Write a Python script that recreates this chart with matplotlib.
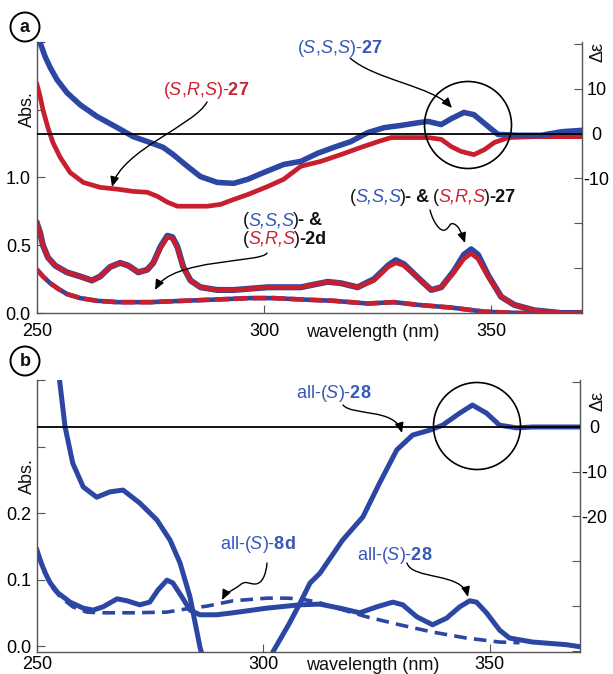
import numpy as np
import matplotlib
matplotlib.use('Agg')
import matplotlib.pyplot as plt
import matplotlib.transforms as mtransforms
from matplotlib.patches import FancyArrowPatch, Circle
from matplotlib.path import Path

plt.rcParams['font.family'] = ['Liberation Sans', 'DejaVu Sans']
plt.rcParams['font.size'] = 13
plt.rcParams['mathtext.fontset'] = 'custom'
plt.rcParams['mathtext.rm'] = 'Liberation Sans'
plt.rcParams['mathtext.it'] = 'Liberation Sans:italic'
plt.rcParams['mathtext.bf'] = 'Liberation Sans:bold'

BLUE = '#2b47a3'
RED = '#c81f2f'
BLUE_TXT = '#3657bb'
RED_TXT = '#cc2331'
INK = '#111111'
GREY = '#555555'
nan = np.nan

# ---------------- panel a : (S,S,S)-27 / (S,R,S)-27 ----------------
# CD (right axis, delta epsilon)
wl_a_cd_sss = [250.7, 251.8, 252.9, 254.4, 256.6, 259.5, 263.2, 267.7, 271.2, 274.9,
               277.8, 280.0, 283.1, 286.0, 289.7, 293.3, 296.4, 299.9, 304.3, 308.1,
               311.8, 315.3, 319.1, 322.8, 326.4, 330.1, 333.9, 336.1, 339.0, 341.2,
               344.0, 346.2, 349.3, 351.5, 355.9, 361.0, 365.5, 369.9]
cd_a_sss = [20.2, 17.1, 14.7, 12.0, 9.1, 6.4, 3.8, 1.3, -0.7, -2.0,
            -3.1, -4.7, -7.3, -9.6, -10.9, -11.1, -10.2, -8.7, -6.9, -6.2,
            -4.4, -3.1, -1.8, 0.2, 1.3, 1.8, 2.4, 2.7, 2.0, 3.3,
            4.7, 4.2, 1.6, -0.2, -0.4, -0.4, 0.4, 0.7]

wl_a_cd_srs = [250.0, 250.7, 251.3, 252.4, 253.5, 255.1, 257.3, 260.2, 263.9, 267.7,
               271.2, 274.3, 276.5, 278.7, 280.9, 283.8, 287.5, 290.4, 293.3, 296.4,
               300.8, 304.3, 308.1, 312.5, 316.9, 321.3, 325.1, 328.0, 331.7, 336.1,
               339.0, 341.2, 343.4, 346.2, 348.5, 350.7, 353.8, 359.5, 369.9]
cd_a_srs = [10.9, 8.2, 5.3, 1.3, -2.0, -5.3, -8.7, -10.9, -12.0, -12.4,
            -12.9, -13.1, -14.0, -15.3, -16.2, -16.2, -16.2, -15.8, -14.7, -13.6,
            -11.8, -10.2, -7.3, -6.2, -4.7, -3.1, -1.8, -0.9, -0.9, -0.9,
            -1.3, -2.9, -4.0, -4.7, -3.6, -2.0, -0.9, -0.7, -0.7]

# UV (left axis, absorbance) of 27
wl_a_uv = [250.0, 250.7, 251.3, 252.4, 254.0, 256.6, 259.5, 262.1, 263.9, 266.1,
           268.3, 270.1, 272.3, 274.3, 275.6, 277.2, 278.7, 279.8, 280.9, 282.2,
           283.8, 286.0, 289.7, 293.3, 300.8, 308.1, 311.0, 314.0, 316.9, 320.6,
           324.2, 327.3, 329.0, 330.8, 333.9, 336.8, 339.0, 341.8, 344.0, 345.6,
           347.1, 349.3, 352.2, 355.1, 359.5, 365.5, 369.9]
abs_a_srs = [0.66, 0.59, 0.50, 0.41, 0.35, 0.30, 0.27, 0.24, 0.27, 0.34,
             0.37, 0.35, 0.30, 0.32, 0.37, 0.48, 0.56, 0.55, 0.48, 0.34,
             0.24, 0.19, 0.17, 0.17, 0.19, 0.19, 0.21, 0.23, 0.22, 0.19,
             0.24, 0.34, 0.37, 0.35, 0.26, 0.17, 0.19, 0.30, 0.40, 0.44,
             0.40, 0.27, 0.12, 0.06, 0.02, 0.0, 0.0]
abs_a_sss = [0.66, 0.59, 0.50, 0.41, 0.35, 0.30, 0.27, 0.24, 0.27, 0.34,
             0.37, 0.35, 0.30, 0.32, 0.37, 0.49, 0.57, 0.56, 0.49, 0.34,
             0.24, 0.19, 0.17, 0.17, 0.19, 0.19, 0.21, 0.23, 0.22, 0.19,
             0.25, 0.35, 0.39, 0.36, 0.26, 0.17, 0.19, 0.31, 0.43, 0.47,
             0.43, 0.28, 0.12, 0.06, 0.02, 0.0, 0.0]

# UV of 2d (identical for both isomers)
wl_a_2d = [250.0, 251.3, 252.9, 254.6, 256.6, 259.5, 263.2, 267.7, 274.9, 282.2,
           289.7, 297.0, 302.1, 308.1, 315.3, 322.8, 328.6, 333.9, 341.2, 348.5,
           356.0, 369.9]
abs_a_2d = [0.32, 0.27, 0.22, 0.18, 0.14, 0.11, 0.09, 0.08, 0.08, 0.09,
            0.10, 0.11, 0.11, 0.10, 0.09, 0.07, 0.08, 0.06, 0.04, 0.01,
            0.0, 0.0]

# ---------------- panel b : all-(S)-28 / all-(S)-8d ----------------
wl_b_cd = [254.8, 256.2, 257.9, 260.2, 263.2, 266.1, 269.0, 272.7, 276.5, 279.4,
           281.6, 283.8, 286.0, 287.3, nan, 301.3, 302.1, 305.8, 308.1, 310.3,
           312.5, 317.5, 322.0, 325.7, 329.5, 333.0, 336.8, 339.6, 343.4, 346.2,
           349.3, 352.2, 356.0, 359.5, 370.0]
cd_b_28 = [12.0, 0.0, -8.1, -13.4, -15.7, -14.5, -14.1, -17.0, -20.8, -25.3,
           -30.4, -38.0, -49.2, -54.0, nan, -54.0, -50.3, -43.8, -39.4, -34.9,
           -32.7, -25.3, -20.1, -12.5, -5.1, -1.8, -0.7, 0.4, 3.1, 4.9,
           3.1, 0.4, -0.2, 0.0, 0.0]

wl_b_uv = [250.0, 250.7, 251.8, 252.9, 254.6, 257.3, 260.2, 262.4, 264.6, 267.7,
           269.9, 272.7, 274.9, 276.7, 278.7, 280.0, 282.0, 283.8, 286.0, 289.7,
           293.3, 300.8, 308.1, 312.5, 316.9, 321.3, 325.1, 328.6, 330.8, 333.9,
           337.4, 340.5, 343.4, 345.6, 347.1, 349.3, 352.2, 354.4, 359.5, 367.0,
           369.9]
abs_b_28 = [0.144, 0.129, 0.110, 0.095, 0.080, 0.066, 0.057, 0.054, 0.059, 0.071,
            0.068, 0.062, 0.066, 0.084, 0.099, 0.095, 0.074, 0.054, 0.047, 0.047,
            0.050, 0.057, 0.062, 0.063, 0.057, 0.050, 0.059, 0.066, 0.062, 0.044,
            0.032, 0.042, 0.059, 0.068, 0.066, 0.050, 0.024, 0.012, 0.006, 0.002,
            -0.001]

wl_b_8d = [250.0, 252.9, 255.1, 257.9, 261.0, 263.9, 271.2, 278.7, 283.1, 287.5,
           293.3, 300.8, 305.0, 308.1, 312.0, 315.3, 322.8, 330.1, 337.4, 344.9,
           352.2, 356.6]
abs_b_8d = [0.144, 0.092, 0.074, 0.059, 0.051, 0.050, 0.050, 0.051, 0.056, 0.060,
            0.068, 0.072, 0.072, 0.071, 0.066, 0.059, 0.044, 0.032, 0.021, 0.012,
            0.006, 0.005]

x_ticks = [250, 300, 350]

fig = plt.figure(figsize=(6.13, 6.74), dpi=100)
# image-pixel coordinates (origin top-left) for the annotations
img = mtransforms.Affine2D().scale(1, -1).translate(0, fig.bbox.height)
renderer = fig.canvas.get_renderer()


def make_panel(rect, abs_lim, abs_ticks, abs_labels, cd_lim, cd_ticks, cd_labels, xpad, ypad):
    ax = fig.add_axes(rect)
    ax2 = ax.twinx()
    ax.set_xlim(250, 370)
    ax.set_ylim(*abs_lim)
    ax2.set_ylim(*cd_lim)
    ax.set_xticks(x_ticks, [str(t) for t in x_ticks])
    ax.set_yticks(abs_ticks, abs_labels)
    ax2.set_yticks(cd_ticks, cd_labels)
    for a in (ax, ax2):
        a.spines['top'].set_visible(False)
        for s in a.spines.values():
            s.set_color(GREY)
            s.set_linewidth(1.0)
    ax.spines['right'].set_visible(False)
    ax2.spines['left'].set_visible(False)
    ax2.spines['bottom'].set_visible(False)
    ax.tick_params(axis='x', direction='in', length=6, width=0.8, color=GREY, pad=xpad, labelsize=13)
    ax.tick_params(axis='y', direction='in', length=6, width=0.8, color=GREY, pad=ypad, labelsize=13)
    ax2.tick_params(axis='y', direction='in', length=6, width=0.8, color=GREY, pad=10.5, labelsize=13)
    for lbl in ax2.get_yticklabels():
        lbl.set_ha('center')
    ax2.axhline(0, color='black', lw=1.3, zorder=6)
    return ax, ax2


def label(x, y, s, color):
    fig.text(x, y, s, transform=img, color=color, va='baseline', ha='left', fontsize=13)


def rich(x, y, pieces):
    # several colours on one line: pieces laid side by side
    for s, color, style, weight, gap in pieces:
        x += gap
        t = fig.text(x, y, s, transform=img, color=color, fontstyle=style,
                     fontweight=weight, va='baseline', ha='left', fontsize=13)
        x += t.get_window_extent(renderer).width


def P(s, color, it=False, bold=False, gap=-1.0):
    return (s, color, 'italic' if it else 'normal', 'bold' if bold else 'normal', gap)


def arrow(points):
    codes = [Path.MOVETO] + [Path.CURVE4] * (len(points) - 1)
    fig.add_artist(FancyArrowPatch(path=Path(points, codes), transform=img,
                                   arrowstyle='-|>,head_length=6,head_width=2.6',
                                   mutation_scale=1, lw=1.0, color='black',
                                   shrinkA=0, shrinkB=0))


# ---------------- panel a ----------------
ax_a, ax_a2 = make_panel([0.0604, 0.5356, 0.889, 0.4021], (0, 2.0),
                         [0, 0.5, 1.0, 1.5, 2.0], ['0.0', '0.5', '1.0', '', ''],
                         (-39.8, 20.4), [-40, -30, -20, -10, 0, 10, 20],
                         ['', '', '', '-10', '0', '10', ''], 7.5, 4.5)

ax_a.plot(wl_a_2d, abs_a_2d, color=BLUE, lw=3.3)
ax_a.plot(wl_a_2d, abs_a_2d, color=RED, lw=3.3, dashes=(3, 1.1))
ax_a.plot(wl_a_uv, abs_a_sss, color=BLUE, lw=4.4, solid_joinstyle='round')
ax_a.plot(wl_a_uv, abs_a_srs, color=RED, lw=3.3, solid_joinstyle='round')
ax_a2.plot(wl_a_cd_srs, cd_a_srs, color=RED, lw=3.4, solid_joinstyle='round')
ax_a2.plot(wl_a_cd_sss, cd_a_sss, color=BLUE, lw=4.0, solid_joinstyle='round')

# ---------------- panel b ----------------
ax_b, ax_b2 = make_panel([0.0604, 0.0326, 0.886, 0.4036], (-0.009, 0.4),
                         [0, 0.1, 0.2, 0.3, 0.4], ['0.0', '0.1', '0.2', '', ''],
                         (-50.3, 10.5), [-50, -40, -30, -20, -10, 0, 10],
                         ['', '', '', '-20', '-10', '0', ''], 2.8, 4.0)

ax_b.plot(wl_b_8d, abs_b_8d, color=BLUE, lw=2.6, dashes=(3.5, 2))
ax_b.plot(wl_b_uv, abs_b_28, color=BLUE, lw=3.6, solid_joinstyle='round')
ax_b2.plot(wl_b_cd, cd_b_28, color=BLUE, lw=3.6, solid_joinstyle='round')

# ---------------- axis captions ----------------
for yc in (109, 476):
    fig.text(27, yc, 'Abs.', transform=img, rotation=90, ha='center', va='center', color=INK)
for yc in (52, 401):
    fig.text(598, yc, 'Δε', transform=img, rotation=90, ha='center', va='center', color=INK)
for yb in (337, 670):
    fig.text(306, yb, 'wavelength (nm)', transform=img, ha='left', va='baseline', color=INK)
for lab, yc in (('a', 27), ('b', 361)):
    fig.add_artist(Circle((25, yc), 14.5, transform=img, fill=False, lw=1.4, color='black'))
    fig.text(25, yc + 1, lab, transform=img, ha='center', va='center',
             fontweight='bold', color=INK)

# circles around the CD couplets
fig.add_artist(Circle((468, 125), 43.5, transform=img, fill=False, lw=1.2, color='black'))
fig.add_artist(Circle((477, 426), 43.5, transform=img, fill=False, lw=1.2, color='black'))

# ---------------- labels + arrows, panel a ----------------
label(297, 53, r'($\mathit{S}$,$\mathit{S}$,$\mathit{S}$)-$\mathbf{27}$', BLUE_TXT)
arrow([(350, 58), (375, 80), (432, 86), (452, 108)])

label(163, 95, r'($\mathit{S}$,$\mathit{R}$,$\mathit{S}$)-$\mathbf{27}$', RED_TXT)
arrow([(207, 102), (195, 125), (122, 150), (112, 187)])

rich(243, 225, [P('(', INK, gap=0), P('S,S,S', BLUE_TXT, it=True), P(')', INK),
                P('- &', INK, bold=True)])
rich(243, 244, [P('(', INK, gap=0), P('S,R,S', RED_TXT, it=True), P(')', INK),
                P('-2d', INK, bold=True)])
arrow([(267, 253), (262, 263), (172, 258), (155, 290)])

rich(350, 202, [P('(', INK, gap=0), P('S,S,S', BLUE_TXT, it=True), P(')', INK),
                P('- &', INK, bold=True), P('(', INK, gap=4.0), P('S,R,S', RED_TXT, it=True),
                P(')', INK), P('-27', INK, bold=True)])
arrow([(430, 210), (433, 222), (440, 232), (445, 230),
       (450, 228), (449, 222), (454, 224),
       (459, 226), (462, 234), (465, 243)])

# ---------------- labels + arrows, panel b ----------------
label(296, 398, r'all-($\mathit{S}$)-$\mathbf{28}$', BLUE_TXT)
arrow([(343, 405), (352, 416), (395, 408), (402, 433)])

label(220, 549, r'all-($\mathit{S}$)-$\mathbf{8d}$', BLUE_TXT)
arrow([(267, 563), (266, 575), (262, 584), (255, 584),
       (248, 584), (246, 580), (240, 585),
       (234, 590), (226, 592), (222, 600)])

label(357, 560, r'all-($\mathit{S}$)-$\mathbf{28}$', BLUE_TXT)
arrow([(407, 563), (412, 580), (462, 572), (468, 597)])

fig.savefig('out.png', dpi=100)
